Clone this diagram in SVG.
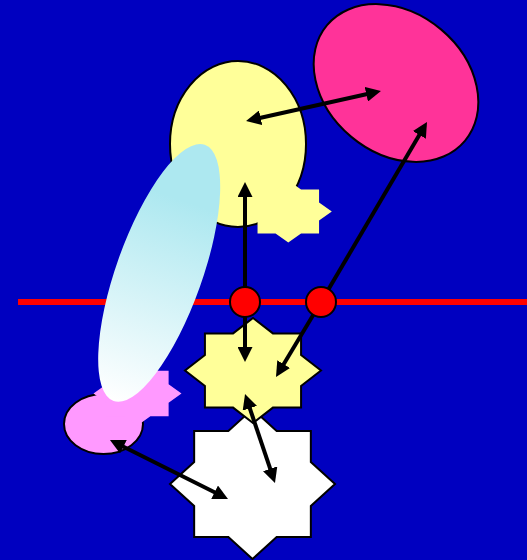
<svg xmlns="http://www.w3.org/2000/svg" width="527" height="560" viewBox="0 0 527 560">
  <style>
    .outl { stroke: #000000; stroke-width: 2; stroke-linejoin: miter; }
    .conn { stroke: #000000; stroke-width: 4; fill: none; }
    .yellow { fill: #FFFF99; }
    .pink { fill: #FF3399; }
    .lpink { fill: #FF99FF; }
    .dot { fill: #FF0000; stroke: #000000; stroke-width: 2; }
  </style>
  <defs>
    <linearGradient id="cyanGrad" x1="0" y1="0" x2="0" y2="1">
      <stop offset="0" stop-color="#ADE8F0"/>
      <stop offset="0.22" stop-color="#ADE8F0"/>
      <stop offset="1" stop-color="#FFFFFF"/>
    </linearGradient>
    <marker id="ah" viewBox="0 0 15 15" refX="1" refY="7.5" markerWidth="15" markerHeight="15" markerUnits="userSpaceOnUse" orient="auto-start-reverse">
      <path d="M0,0 L15,7.5 L0,15 Z" fill="#000000"/>
    </marker>
  </defs>
  <rect x="0" y="0" width="527" height="560" fill="#0000C0"/>

  <g id="axis">
    <line x1="18" y1="302" x2="527" y2="302" stroke="#FF0000" stroke-width="6"/>
  </g>

  <g id="yellow-ellipse">
    <ellipse cx="238" cy="144" rx="68" ry="83" class="yellow outl"/>
  </g>
  <g id="yellow-small-star">
    <polygon class="yellow" points="331.8,211.5 319.06,220.58 319.06,233.42 301.04,233.42 288.3,242.5 275.56,233.42 257.54,233.42 257.54,220.58 244.8,211.5 257.54,202.42 257.54,189.58 275.56,189.58 288.3,180.5 301.04,189.58 319.06,189.58 319.06,202.42"/>
  </g>
  <g id="pink-ellipse">
    <ellipse cx="396" cy="83" rx="90" ry="70" transform="rotate(40 396 83)" class="pink outl"/>
  </g>
  <g id="lpink-ellipse">
    <ellipse cx="103.5" cy="424" rx="39.5" ry="30" class="lpink outl"/>
  </g>
  <g id="lpink-small-star">
    <polygon class="lpink" points="181.5,393.5 168.61,402.87 168.61,416.13 150.39,416.13 137.5,425.5 124.61,416.13 106.39,416.13 106.39,402.87 93.5,393.5 106.39,384.13 106.39,370.87 124.61,370.87 137.5,361.5 150.39,370.87 168.61,370.87 168.61,384.13"/>
  </g>
  <g id="cyan-ellipse">
    <ellipse cx="159.2" cy="272.9" rx="43" ry="136" transform="rotate(19.6 159.2 272.9)" fill="url(#cyanGrad)"/>
  </g>
  <g id="white-star">
    <polygon class="outl" fill="#FFFFFF" points="335,484 310.84,505.97 310.84,537.03 276.66,537.03 252.5,559 228.34,537.03 194.16,537.03 194.16,505.97 170,484 194.16,462.03 194.16,430.97 228.34,430.97 252.5,409 276.66,430.97 310.84,430.97 310.84,462.03"/>
  </g>
  <g id="yellow-star">
    <polygon class="yellow outl" points="321,370.5 301.08,385.88 301.08,407.62 272.92,407.62 253,423 233.08,407.62 204.92,407.62 204.92,385.88 185,370.5 204.92,355.12 204.92,333.38 233.08,333.38 253,318 272.92,333.38 301.08,333.38 301.08,355.12"/>
  </g>

  <g id="connectors">
    <line class="conn" x1="259.7" y1="118" x2="367.3" y2="94" marker-start="url(#ah)" marker-end="url(#ah)"/>
    <line class="conn" x1="321" y1="302" x2="419.9" y2="134.1" marker-end="url(#ah)"/>
    <line class="conn" x1="245" y1="302" x2="245" y2="196" marker-end="url(#ah)"/>
    <line class="conn" x1="245" y1="302" x2="245" y2="348" marker-end="url(#ah)"/>
    <line class="conn" x1="321" y1="302" x2="283.2" y2="365" marker-end="url(#ah)"/>
    <line class="conn" x1="249.5" y1="407.3" x2="270.5" y2="469.7" marker-start="url(#ah)" marker-end="url(#ah)"/>
    <line class="conn" x1="122.5" y1="446.3" x2="215.5" y2="492.7" marker-start="url(#ah)" marker-end="url(#ah)"/>
  </g>

  <g id="dot-left">
    <circle cx="245" cy="302" r="15" class="dot"/>
  </g>
  <g id="dot-right">
    <circle cx="321" cy="302" r="15" class="dot"/>
  </g>
</svg>
